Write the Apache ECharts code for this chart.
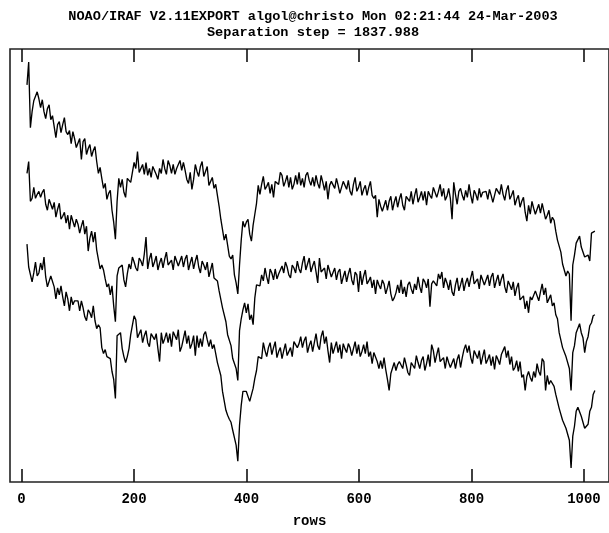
<!DOCTYPE html>
<html>
<head>
<meta charset="utf-8">
<script src="https://cdn.jsdelivr.net/npm/echarts@6/dist/echarts.min.js"></script>
<style>
  html, body { margin: 0; padding: 0; background: #fff; }
  #chart { width: 609px; height: 533px; }
</style>
</head>
<body>
<div id="chart"></div>
<script>
// Plot header (IRAF specplot style)
const headerLines = [
  'NOAO/IRAF V2.11EXPORT algol@christo Mon 02:21:44 24-Mar-2003',
  'Separation step = 1837.988'
];
const xTickValues = [0, 200, 400, 600, 800, 1000];
const xName = 'rows';

// Samples are taken along the rows at a fixed spacing
const firstRow = 9.7;
const rowStep = 3.023;

// Stacked spectra (already offset by the separation step), top to bottom
const specTop = [
  399, 422, 356, 372, 383, 381, 392, 385, 376, 384,
  372, 365, 375, 379, 364, 368, 370, 346, 359, 362,
  351, 359, 366, 352, 349, 353, 340, 352, 345, 336,
  337, 345, 324, 342, 345, 329, 335, 339, 327, 333,
  337, 322, 310, 316, 305, 295, 300, 284, 290, 293,
  273, 261, 244, 282, 305, 296, 304, 291, 286, 305,
  307, 301, 311, 321, 315, 332, 311, 313, 319, 309,
  321, 308, 315, 306, 317, 319, 309, 304, 315, 310,
  324, 315, 309, 323, 318, 310, 319, 309, 315, 319,
  323, 313, 321, 313, 304, 300, 311, 294, 304, 319,
  312, 307, 317, 322, 307, 312, 317, 298, 300, 306,
  295, 299, 298, 277, 264, 262, 243, 249, 238, 227,
  224, 228, 208, 200, 189, 218, 243, 262, 256, 261,
  264, 249, 242, 258, 269, 280, 298, 289, 299, 307,
  294, 297, 301, 290, 299, 286, 302, 300, 299, 311,
  308, 297, 302, 308, 296, 306, 294, 299, 308, 299,
  311, 298, 305, 296, 308, 311, 303, 298, 306, 297,
  308, 300, 295, 308, 301, 293, 302, 284, 298, 302,
  304, 295, 305, 298, 290, 288, 302, 300, 294, 303,
  292, 288, 299, 306, 292, 296, 302, 288, 294, 298,
  288, 296, 302, 288, 285, 288, 266, 284, 277, 272,
  274, 283, 273, 282, 287, 273, 281, 287, 276, 284,
  290, 278, 273, 287, 285, 282, 292, 279, 288, 295,
  281, 286, 292, 283, 292, 278, 292, 288, 285, 296,
  294, 286, 292, 299, 287, 295, 283, 287, 295, 285,
  264, 301, 289, 279, 292, 295, 288, 283, 293, 286,
  299, 288, 280, 293, 289, 283, 295, 286, 291, 292,
  292, 284, 294, 288, 281, 280, 295, 294, 289, 299,
  289, 283, 293, 298, 284, 288, 293, 278, 284, 288,
  276, 282, 286, 271, 262, 278, 269, 282, 275, 269,
  270, 279, 270, 280, 282, 264, 268, 273, 260, 266,
  263, 252, 243, 242, 231, 219, 217, 207, 212, 209,
  162, 218, 228, 240, 238, 247, 236, 234, 226, 224,
  228, 222, 250, 249, 252
];

const specMid = [
  310, 322, 282, 285, 296, 285, 289, 292, 286, 291,
  294, 279, 273, 284, 279, 274, 281, 266, 274, 280,
  264, 267, 271, 260, 268, 254, 268, 262, 256, 264,
  259, 250, 257, 263, 249, 257, 232, 245, 252, 241,
  251, 233, 233, 214, 218, 213, 204, 196, 199, 188,
  197, 177, 161, 207, 215, 213, 218, 203, 196, 209,
  219, 214, 226, 221, 215, 212, 225, 222, 217, 229,
  246, 214, 224, 230, 216, 221, 227, 213, 220, 225,
  215, 224, 231, 218, 216, 223, 213, 227, 222, 217,
  219, 227, 216, 224, 228, 213, 220, 226, 214, 222,
  228, 216, 210, 222, 218, 213, 221, 206, 213, 220,
  205, 204, 202, 192, 190, 175, 173, 161, 148, 146,
  137, 124, 123, 114, 102, 152, 164, 173, 180, 170,
  179, 163, 168, 158, 185, 198, 198, 197, 208, 202,
  215, 206, 199, 214, 210, 203, 214, 204, 209, 213,
  217, 210, 221, 216, 208, 205, 218, 215, 210, 222,
  214, 210, 220, 227, 213, 219, 225, 211, 217, 222,
  211, 200, 225, 211, 209, 215, 204, 218, 212, 206,
  207, 215, 203, 211, 214, 199, 206, 212, 201, 209,
  215, 203, 198, 211, 208, 191, 212, 198, 207, 213,
  199, 202, 206, 195, 203, 189, 203, 198, 194, 203,
  199, 189, 195, 202, 189, 182, 185, 190, 198, 190,
  203, 189, 196, 186, 198, 201, 194, 189, 199, 193,
  206, 196, 190, 204, 201, 195, 204, 176, 199, 202,
  204, 197, 209, 204, 211, 195, 205, 200, 193, 203,
  191, 187, 198, 205, 192, 198, 205, 192, 200, 205,
  196, 205, 212, 199, 197, 204, 194, 208, 203, 198,
  200, 208, 197, 206, 210, 195, 202, 208, 197, 204,
  209, 196, 190, 202, 198, 193, 201, 187, 195, 200,
  183, 185, 187, 174, 182, 170, 186, 183, 181, 192,
  190, 182, 191, 199, 188, 195, 180, 182, 188, 177,
  180, 168, 164, 150, 148, 135, 136, 126, 127, 114,
  92, 130, 137, 150, 152, 159, 150, 145, 130, 141,
  146, 157, 160, 167, 168
];

const specBot = [
  239, 216, 215, 201, 210, 221, 207, 210, 220, 213,
  226, 206, 196, 196, 207, 208, 196, 184, 195, 188,
  197, 186, 177, 191, 184, 172, 186, 178, 182, 182,
  182, 172, 182, 175, 166, 162, 173, 170, 165, 177,
  162, 154, 158, 155, 135, 129, 133, 126, 126, 124,
  111, 103, 84, 147, 148, 150, 134, 126, 120, 126,
  134, 148, 147, 167, 163, 145, 149, 153, 140, 147,
  152, 140, 136, 149, 147, 143, 149, 134, 121, 150,
  139, 144, 150, 140, 149, 136, 151, 147, 143, 153,
  131, 136, 144, 152, 139, 147, 134, 139, 147, 127,
  147, 135, 144, 136, 148, 151, 143, 136, 143, 134,
  138, 129, 120, 120, 107, 91, 90, 72, 67, 63,
  60, 52, 50, 37, 21, 57, 77, 91, 89, 91,
  92, 81, 83, 94, 104, 112, 126, 125, 124, 140,
  132, 126, 135, 140, 128, 135, 141, 125, 131, 135,
  124, 132, 139, 127, 127, 135, 126, 141, 138, 135,
  139, 146, 135, 142, 146, 130, 137, 142, 131, 140,
  149, 137, 133, 146, 152, 139, 146, 132, 120, 140,
  129, 135, 141, 130, 138, 124, 139, 134, 130, 139,
  135, 127, 134, 141, 129, 138, 126, 131, 138, 129,
  141, 126, 131, 119, 130, 131, 121, 114, 122, 114,
  125, 113, 103, 92, 109, 107, 120, 112, 118, 121,
  122, 114, 125, 118, 110, 107, 120, 117, 114, 127,
  120, 114, 122, 126, 112, 119, 128, 116, 138, 132,
  120, 128, 135, 121, 119, 125, 114, 126, 120, 115,
  116, 124, 114, 123, 128, 115, 125, 133, 138, 130,
  137, 125, 119, 132, 128, 124, 132, 118, 126, 133,
  119, 123, 128, 117, 126, 113, 127, 123, 118, 128,
  127, 136, 125, 132, 118, 126, 112, 115, 122, 111,
  121, 105, 108, 92, 106, 111, 105, 101, 111, 105,
  119, 111, 107, 124, 121, 92, 107, 98, 102, 102,
  96, 88, 86, 74, 72, 62, 63, 54, 52, 42,
  14, 46, 56, 71, 75, 76, 66, 66, 54, 56,
  58, 71, 75, 88, 92
];

const FONT = '"Liberation Mono", "DejaVu Sans Mono", monospace';

function pairs(values) {
  return values.map((v, i) => [firstRow + rowStep * i, v]);
}

function spectrumSeries(values) {
  return {
    type: 'line',
    data: pairs(values),
    showSymbol: false,
    symbol: 'none',
    sampling: null,
    silent: true,
    lineStyle: { color: '#000', width: 1.35 },
    animation: false
  };
}

const tickStyle = {
  show: true,
  inside: true,
  length: 13,
  customValues: xTickValues,
  lineStyle: { color: '#111', width: 1.6 }
};

const chart = echarts.init(document.getElementById('chart'), null, { renderer: 'canvas' });

chart.setOption({
  animation: false,
  backgroundColor: '#fff',
  graphic: [
    {
      type: 'text', x: 313, y: 17,
      style: {
        text: headerLines[0], font: 'bold 13.6px ' + FONT,
        fill: '#000', textAlign: 'center', textVerticalAlign: 'middle'
      }
    },
    {
      type: 'text', x: 313, y: 33,
      style: {
        text: headerLines[1], font: 'bold 13.6px ' + FONT,
        fill: '#000', textAlign: 'center', textVerticalAlign: 'middle'
      }
    }
  ],
  grid: {
    left: 10, top: 49, width: 606, height: 435,
    show: true, borderColor: '#222', borderWidth: 1.6,
    backgroundColor: 'transparent'
  },
  xAxis: [
    {
      type: 'value', position: 'bottom',
      min: -20.5, max: 1044.5,
      axisLine: { show: false },
      splitLine: { show: false },
      axisTick: tickStyle,
      axisLabel: {
        show: true, customValues: xTickValues, margin: 10,
        formatter: v => String(v),
        color: '#000', fontFamily: FONT, fontWeight: 'bold', fontSize: 14
      },
      name: xName, nameLocation: 'middle', nameGap: 32,
      nameTextStyle: { color: '#000', fontFamily: FONT, fontWeight: 'bold', fontSize: 14 }
    },
    {
      type: 'value', position: 'top',
      min: -20.5, max: 1044.5,
      axisLine: { show: false },
      splitLine: { show: false },
      axisTick: tickStyle,
      axisLabel: { show: false }
    }
  ],
  yAxis: {
    type: 'value', min: 0, max: 435,
    axisLine: { show: false }, axisTick: { show: false },
    axisLabel: { show: false }, splitLine: { show: false }
  },
  series: [specTop, specMid, specBot].map(spectrumSeries)
});
</script>
</body>
</html>
